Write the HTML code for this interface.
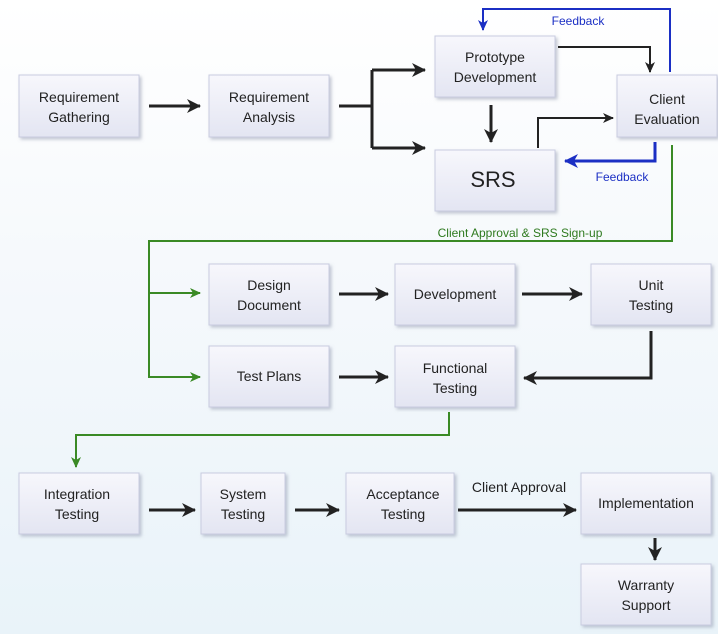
<!DOCTYPE html>
<html><head><meta charset="utf-8"><style>
html,body{margin:0;padding:0}
body{width:718px;height:634px;overflow:hidden;background:linear-gradient(#ffffff 0%,#f6f9fc 40%,#e9f3f9 100%)}
svg{display:block}
text{font-family:"Liberation Sans",sans-serif}
</style></head><body>
<svg width="718" height="634" viewBox="0 0 718 634" xmlns="http://www.w3.org/2000/svg">
<defs>
<linearGradient id="bg" x1="0" y1="0" x2="0" y2="1"><stop offset="0" stop-color="#f7f7fc"/><stop offset="1" stop-color="#e3e5f2"/></linearGradient>
<marker id="ak" markerWidth="16" markerHeight="16" refX="13" refY="8" orient="auto" markerUnits="userSpaceOnUse"><path d="M0,1 L14,8 L0,15 L4,8z" fill="#222"/></marker>
<marker id="as" markerWidth="12" markerHeight="12" refX="10" refY="6" orient="auto" markerUnits="userSpaceOnUse"><path d="M0,1 L11,6 L0,11 L3,6z" fill="#222"/></marker>
<marker id="ab" markerWidth="16" markerHeight="16" refX="13" refY="8" orient="auto" markerUnits="userSpaceOnUse"><path d="M0,1 L14,8 L0,15 L4,8z" fill="#1b2fc4"/></marker>
<marker id="abs" markerWidth="12" markerHeight="12" refX="10" refY="6" orient="auto" markerUnits="userSpaceOnUse"><path d="M0,1 L11,6 L0,11 L3,6z" fill="#1b2fc4"/></marker>
<marker id="ag" markerWidth="12" markerHeight="12" refX="10" refY="6" orient="auto" markerUnits="userSpaceOnUse"><path d="M0,1 L11,6 L0,11 L3,6z" fill="#3a8a25"/></marker>
<filter id="sh" x="-10%" y="-10%" width="130%" height="130%"><feDropShadow dx="2" dy="2" stdDeviation="1.5" flood-color="#8890a8" flood-opacity="0.5"/></filter>
</defs>
<g fill="url(#bg)" stroke="#c9cce0" stroke-width="1" filter="url(#sh)">
<rect x="19" y="75" width="120" height="62"/>
<rect x="209" y="75" width="120" height="62"/>
<rect x="435" y="36" width="120" height="61"/>
<rect x="435" y="150" width="120" height="61"/>
<rect x="617" y="75" width="100" height="62"/>
<rect x="209" y="264" width="120" height="61"/>
<rect x="395" y="264" width="120" height="61"/>
<rect x="591" y="264" width="120" height="61"/>
<rect x="209" y="346" width="120" height="61"/>
<rect x="395" y="346" width="120" height="61"/>
<rect x="19" y="473" width="120" height="61"/>
<rect x="201" y="473" width="84" height="61"/>
<rect x="346" y="473" width="108" height="61"/>
<rect x="581" y="473" width="130" height="61"/>
<rect x="581" y="564" width="130" height="61"/>
</g>
<g fill="none" stroke="#222" stroke-width="3">
<path d="M149,106H200" marker-end="url(#ak)"/>
<path d="M339,106H372"/>
<path d="M372,70V148"/>
<path d="M372,70H425" marker-end="url(#ak)"/>
<path d="M372,148H425" marker-end="url(#ak)"/>
<path d="M491,105V142" marker-end="url(#ak)"/>
<path d="M339,294H388" marker-end="url(#ak)"/>
<path d="M522,294H582" marker-end="url(#ak)"/>
<path d="M339,377H388" marker-end="url(#ak)"/>
<path d="M651,331V378H524" marker-end="url(#ak)"/>
<path d="M149,510H195" marker-end="url(#ak)"/>
<path d="M295,510H339" marker-end="url(#ak)"/>
<path d="M458,510H576" marker-end="url(#ak)"/>
<path d="M655,538V560" marker-end="url(#ak)"/>
</g>
<g fill="none" stroke="#222" stroke-width="2">
<path d="M558,47H650V72" marker-end="url(#as)"/>
<path d="M538,148V118H613" marker-end="url(#as)"/>
</g>
<g fill="none" stroke="#1b2fc4" stroke-width="2">
<path d="M670,72V9H483V30" marker-end="url(#abs)"/>
<path d="M655,142V161H565" stroke-width="3" marker-end="url(#ab)"/>
</g>
<g fill="none" stroke="#3a8a25" stroke-width="2">
<path d="M672,145V241H149V377H200" marker-end="url(#ag)"/>
<path d="M149,293H200" marker-end="url(#ag)"/>
<path d="M449,412V435H76V467" marker-end="url(#ag)"/>
</g>
<g font-size="14" fill="#222" text-anchor="middle">
<text x="79" y="102">Requirement</text><text x="79" y="122">Gathering</text>
<text x="269" y="102">Requirement</text><text x="269" y="122">Analysis</text>
<text x="495" y="62">Prototype</text><text x="495" y="82">Development</text>
<text x="493" y="187" font-size="22">SRS</text>
<text x="667" y="104">Client</text><text x="667" y="124">Evaluation</text>
<text x="269" y="290">Design</text><text x="269" y="310">Document</text>
<text x="455" y="299">Development</text>
<text x="651" y="290">Unit</text><text x="651" y="310">Testing</text>
<text x="269" y="381">Test Plans</text>
<text x="455" y="373">Functional</text><text x="455" y="393">Testing</text>
<text x="77" y="499">Integration</text><text x="77" y="519">Testing</text>
<text x="243" y="499">System</text><text x="243" y="519">Testing</text>
<text x="403" y="499">Acceptance</text><text x="403" y="519">Testing</text>
<text x="646" y="508">Implementation</text>
<text x="646" y="590">Warranty</text><text x="646" y="610">Support</text>
<text x="519" y="492">Client Approval</text>
</g>
<g font-size="12" text-anchor="middle">
<text x="578" y="25" fill="#1b2fc4">Feedback</text>
<text x="622" y="181" fill="#1b2fc4">Feedback</text>
<text x="520" y="237" fill="#2e7a1e">Client Approval &amp; SRS Sign-up</text>
</g>
</svg>
</body></html>
